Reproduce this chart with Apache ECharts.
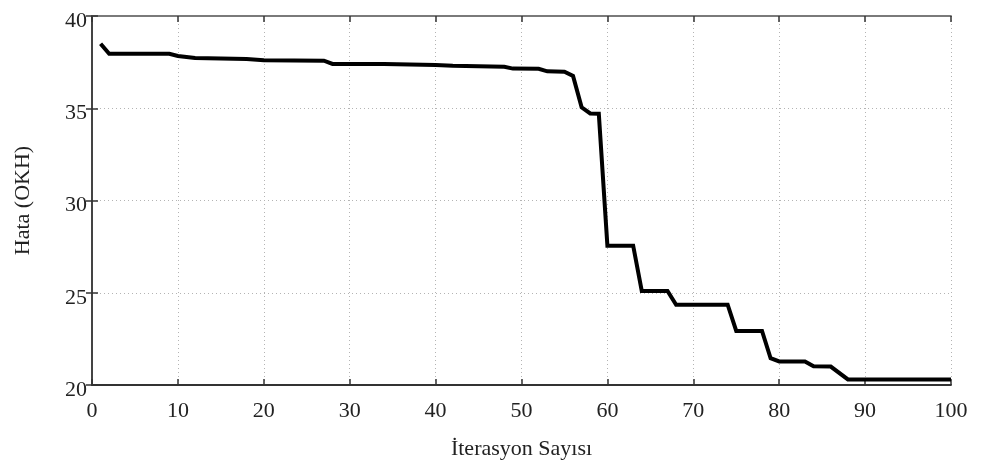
<!DOCTYPE html>
<html>
<head>
<meta charset="utf-8">
<script src="https://cdn.jsdelivr.net/npm/echarts@6/dist/echarts.min.js"></script>
<style>
  html, body { margin: 0; padding: 0; background: #fff; }
  #chart { width: 986px; height: 462px; }
</style>
</head>
<body>
<div id="chart"></div>
<script>
// Error (OKH) per iteration: breakpoints of the convergence curve
const iterations = [1, 2, 9, 10, 12, 18, 20, 27, 28, 34, 40, 42, 48, 49, 52, 53, 55, 56, 57, 58, 59, 60, 63, 64, 67, 68, 74, 75, 78, 79, 80, 83, 84, 86, 88, 100];
const errors = [38.5, 37.95, 37.95, 37.83, 37.72, 37.67, 37.6, 37.58, 37.4, 37.4, 37.34, 37.3, 37.25, 37.15, 37.14, 37.0, 36.98, 36.75, 35.05, 34.72, 34.7, 27.55, 27.55, 25.1, 25.1, 24.35, 24.35, 22.93, 22.93, 21.45, 21.28, 21.28, 21.02, 21.0, 20.3, 20.3];
const xTicks = [0, 10, 20, 30, 40, 50, 60, 70, 80, 90, 100];
const yTicks = [20, 25, 30, 35, 40];

const xTitle = 'İterasyon Sayısı';
const yTitle = 'Hata (OKH)';

const font = 'Liberation Serif';
const gridLine = { show: true, lineStyle: { color: '#b4b4b4', type: [1, 3], width: 1 } };

const chart = echarts.init(document.getElementById('chart'), null, { renderer: 'canvas' });

chart.setOption({
  backgroundColor: '#ffffff',
  animation: false,
  grid: { left: 92, right: 35, top: 16, bottom: 77, containLabel: false, outerBoundsMode: 'none' },
  xAxis: [
    {
      type: 'value', min: xTicks[0], max: xTicks[xTicks.length - 1], interval: 10,
      name: xTitle, nameLocation: 'middle', nameGap: 53,
      nameTextStyle: { fontFamily: font, fontSize: 22, color: '#222' },
      axisLine: { show: true, lineStyle: { color: '#333', width: 1.8 } },
      axisTick: { show: true, inside: true, length: 6, lineStyle: { color: '#333', width: 1.5 } },
      axisLabel: { fontFamily: font, fontSize: 22, color: '#222', margin: 15 },
      splitLine: gridLine
    },
    {
      type: 'value', position: 'top', min: xTicks[0], max: xTicks[xTicks.length - 1], interval: 10,
      axisLine: { show: true, lineStyle: { color: '#7a7a7a', width: 1.8 } },
      axisTick: { show: true, inside: true, length: 6, lineStyle: { color: '#333', width: 1.5 } },
      axisLabel: { show: false },
      splitLine: { show: false }
    }
  ],
  yAxis: [
    {
      type: 'value', min: yTicks[0], max: yTicks[yTicks.length - 1], interval: 5,
      name: yTitle, nameLocation: 'middle', nameGap: 58,
      nameTextStyle: { fontFamily: font, fontSize: 22, color: '#222' },
      axisLine: { show: true, lineStyle: { color: '#333', width: 1.8 } },
      axisTick: { show: true, inside: true, length: 6, lineStyle: { color: '#333', width: 1.5 } },
      axisLabel: { fontFamily: font, fontSize: 22, color: '#222', margin: 5, verticalAlign: 'top', lineHeight: 10 },
      splitLine: gridLine
    },
    {
      type: 'value', position: 'right', min: yTicks[0], max: yTicks[yTicks.length - 1], interval: 5,
      axisLine: { show: true, lineStyle: { color: '#444', width: 1.8 } },
      axisTick: { show: true, inside: true, length: 6, lineStyle: { color: '#333', width: 1.5 } },
      axisLabel: { show: false },
      splitLine: { show: false }
    }
  ],
  series: [
    {
      type: 'line',
      data: iterations.map((x, i) => [x, errors[i]]),
      showSymbol: false,
      symbol: 'none',
      lineStyle: { color: '#000', width: 4, join: 'miter' },
      z: 5
    }
  ]
});
</script>
</body>
</html>
